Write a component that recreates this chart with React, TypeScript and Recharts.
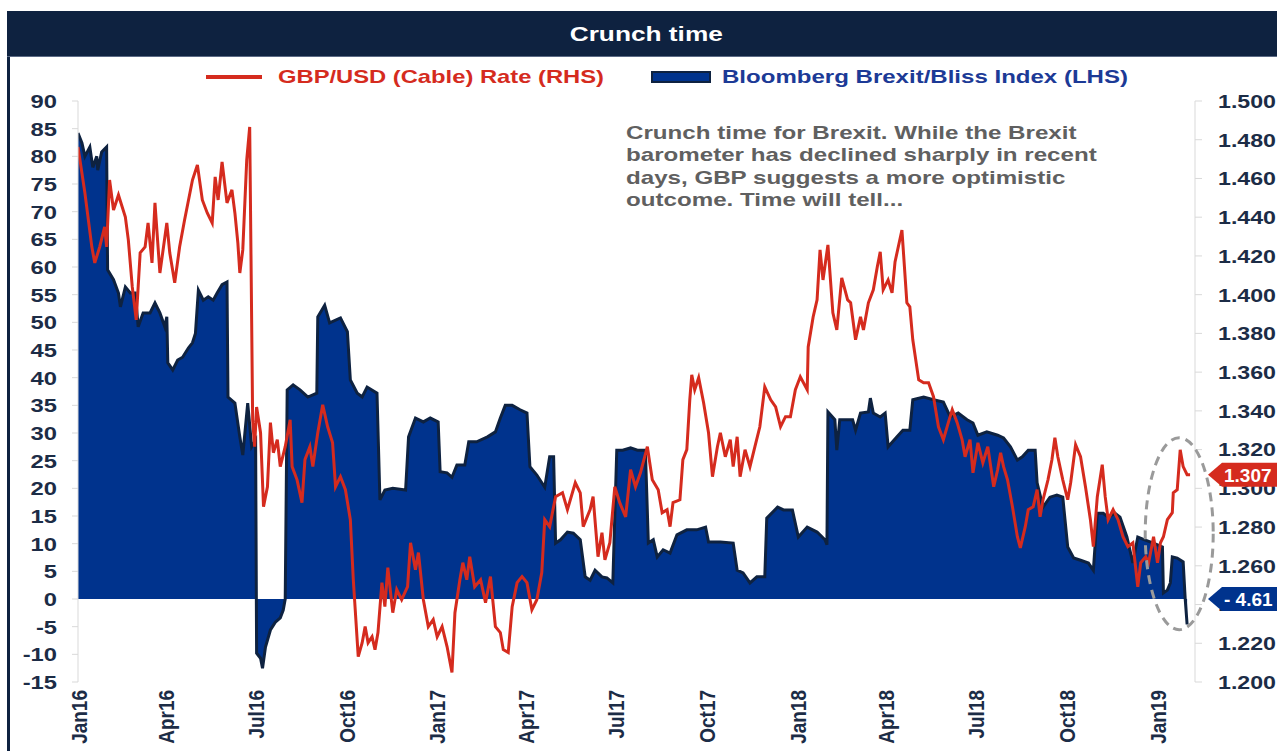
import React from "react";
import { ComposedChart, Area, Line, XAxis, YAxis, ReferenceDot } from "recharts";

// day = days since 1 Jan 2016
const cableDay = [
  2, 9, 16, 19, 24, 29, 31, 34, 38, 43, 50, 53, 57, 61, 65, 70, 73, 77, 80, 85, 92, 95, 100, 105, 110, 118, 123, 128,
  133, 138, 141, 144, 148, 153, 158, 161, 164, 166, 169, 173, 176, 179, 181, 183, 187, 190, 194, 197, 200, 204, 207,
  212, 217, 219, 224, 229, 232, 237, 240, 245, 250, 255, 260, 263, 268, 273, 278, 281, 286, 290, 293, 296, 300, 303,
  306, 310, 313, 316, 321, 325, 330, 336, 339, 344, 347, 352, 357, 362, 366, 371, 376, 381, 384, 389, 392, 396, 399,
  404, 410, 415, 420, 425, 430, 433, 438, 442, 447, 452, 457, 462, 467, 472, 475, 480, 486, 493, 498, 506, 511, 514,
  521, 524, 529, 533, 536, 541, 546, 551, 557, 562, 567, 572, 579, 584, 590, 594, 599, 602, 605, 612, 615, 619, 622,
  624, 627, 631, 636, 641, 645, 650, 653, 658, 663, 666, 670, 673, 678, 683, 688, 693, 698, 704, 709, 714, 719, 724,
  729, 734, 741, 742, 747, 751, 754, 757, 762, 767, 771, 776, 782, 785, 790, 795, 798, 803, 808, 812, 815, 818, 823,
  827, 830, 837, 842, 845, 848, 854, 859, 864, 869, 874, 879, 884, 888, 893, 898, 901, 906, 909, 914, 919, 924, 930,
  934, 937, 940, 944, 949, 954, 957, 962, 965, 970, 974, 977, 980, 985, 989, 992, 995, 1000, 1005, 1008, 1013, 1018,
  1023, 1028, 1031, 1035, 1040, 1043, 1046, 1051, 1056, 1061, 1066, 1071, 1076, 1079, 1084, 1087, 1092, 1096, 1099,
  1102, 1106, 1111, 1112, 1116, 1119, 1122, 1126, 1129,
];
const cableRate = [
  1.4763, 1.4525, 1.4247, 1.4164, 1.4247, 1.435, 1.4247, 1.4592, 1.4437, 1.4515, 1.4401, 1.4283, 1.404, 1.387, 1.4216,
  1.4247, 1.437, 1.4164, 1.4474, 1.4112, 1.437, 1.4216, 1.4061, 1.4247, 1.4386, 1.4592, 1.467, 1.4489, 1.4422, 1.437,
  1.4608, 1.4489, 1.4685, 1.4474, 1.4541, 1.4422, 1.4267, 1.4112, 1.4231, 1.4696, 1.4866, 1.3354, 1.3215, 1.342,
  1.3287, 1.2905, 1.3008, 1.3339, 1.3184, 1.3251, 1.3112, 1.3215, 1.3354, 1.3112, 1.3044, 1.2926, 1.3148, 1.3215,
  1.3112, 1.3287, 1.3431, 1.3318, 1.3235, 1.3008, 1.306, 1.2993, 1.2838, 1.2528, 1.2131, 1.2203, 1.2286, 1.2203,
  1.2234, 1.2167, 1.2255, 1.2513, 1.2389, 1.259, 1.2358, 1.2477, 1.2425, 1.2492, 1.2719, 1.258, 1.2668, 1.2425,
  1.2286, 1.2322, 1.2234, 1.2286, 1.2183, 1.2049, 1.2358, 1.2528, 1.2616, 1.2528, 1.2647, 1.2492, 1.2528, 1.241,
  1.2544, 1.2286, 1.2255, 1.2167, 1.2152, 1.2389, 1.2513, 1.2544, 1.2513, 1.2373, 1.2425, 1.2565, 1.2838, 1.2802,
  1.2957, 1.2977, 1.289, 1.3029, 1.2977, 1.2802, 1.289, 1.2957, 1.2647, 1.2771, 1.2631, 1.2719, 1.3008, 1.2926,
  1.2853, 1.3096, 1.3008, 1.308, 1.3215, 1.3044, 1.2993, 1.2874, 1.289, 1.2802, 1.2926, 1.2941, 1.3148, 1.32, 1.3457,
  1.3586, 1.3509, 1.3571, 1.3442, 1.3287, 1.306, 1.3215, 1.3287, 1.3163, 1.3251, 1.3112, 1.3266, 1.306, 1.3199,
  1.3112, 1.3215, 1.3318, 1.3524, 1.3457, 1.3421, 1.3318, 1.337, 1.337, 1.3509, 1.3576, 1.3509, 1.373, 1.3885,
  1.3973, 1.4231, 1.4076, 1.4257, 1.3906, 1.3818, 1.4087, 1.3973, 1.3958, 1.3767, 1.3885, 1.3818, 1.3958, 1.4025,
  1.4143, 1.4221, 1.4025, 1.4076, 1.4009, 1.4169, 1.4334, 1.3958, 1.3937, 1.3767, 1.356, 1.3545, 1.3545, 1.3473,
  1.3318, 1.3251, 1.3339, 1.3406, 1.3339, 1.3251, 1.3163, 1.3251, 1.308, 1.3235, 1.3132, 1.3215, 1.3008, 1.3096,
  1.3184, 1.3112, 1.3044, 1.2905, 1.275, 1.2693, 1.2802, 1.289, 1.2905, 1.2993, 1.2853, 1.2941, 1.3044, 1.3148,
  1.3261, 1.3163, 1.3044, 1.2941, 1.3029, 1.3225, 1.3163, 1.3008, 1.2838, 1.2699, 1.2957, 1.3122, 1.2957, 1.2838,
  1.289, 1.2838, 1.275, 1.2699, 1.2719, 1.2492, 1.2616, 1.2647, 1.2616, 1.275, 1.2616, 1.2719, 1.275, 1.2838, 1.2874,
  1.2977, 1.2993, 1.3199, 1.3112, 1.307, 1.307,
];

const blissDay = [
  2, 6, 9, 14, 17, 21, 22, 26, 31, 32, 38, 43, 45, 50, 55, 60, 63, 68, 75, 80, 85, 90, 92, 93, 98, 103, 108, 114, 118,
  121, 124, 129, 134, 139, 143, 148, 153, 154, 161, 166, 169, 174, 178, 182, 183, 187, 189, 192, 197, 202, 207, 210,
  212, 214, 220, 227, 235, 244, 245, 252, 257, 268, 275, 278, 285, 290, 295, 305, 308, 313, 321, 334, 337, 344, 352,
  359, 367, 369, 376, 381, 386, 394, 398, 406, 417, 425, 430, 435, 442, 450, 457, 460, 467, 475, 480, 484, 486, 491,
  498, 504, 511, 516, 521, 526, 533, 538, 544, 548, 554, 562, 569, 577, 580, 585, 589, 595, 602, 609, 619, 629, 638,
  641, 653, 666, 670, 676, 683, 690, 698, 700, 711, 717, 726, 732, 741, 751, 759, 761, 762, 769, 771, 774, 782, 787,
  790, 795, 803, 805, 808, 815, 820, 823, 832, 838, 845, 848, 859, 869, 879, 886, 894, 903, 909, 914, 923, 934, 940,
  947, 954, 959, 965, 972, 974, 980, 987, 994, 1000, 1005, 1011, 1018, 1026, 1031, 1035, 1041, 1046, 1053, 1058, 1065,
  1071, 1076, 1083, 1092, 1101, 1102, 1106, 1109, 1111, 1116, 1122, 1124, 1126,
];
const blissIndex = [
  84.2, 82.4, 80, 81.7, 78, 80, 77.5, 80.8, 81.7, 59.5, 57.7, 55.3, 52.8, 56.4, 55.3, 55.3, 49.2, 51.7, 51.7, 53.5,
  51.7, 49.2, 51, 42.7, 41.4, 43.2, 43.7, 45.4, 46.3, 48, 55.8, 54, 54.6, 54, 55.3, 56.8, 57.3, 36.5, 35.4, 29.3, 26,
  35.4, 27.5, 28.7, -9.8, -10.7, -12.5, -8.7, -5.6, -4.2, -3.4, -2, 0, 37.8, 38.7, 37.8, 36.5, 37.2, 51, 53.1, 49.9,
  50.8, 48.3, 39.6, 37.2, 36.5, 38.3, 37.2, 17.9, 19.7, 20, 19.7, 29.3, 32.7, 32, 32.7, 32, 23, 22.8, 22, 24.2, 24.2,
  28.4, 28.4, 29.3, 30.2, 32.7, 35, 35, 34.2, 33.6, 23.9, 22.4, 20.2, 25.7, 25.7, 10.1, 10.7, 12.1, 11.9, 10.7, 4, 3.4,
  5.2, 4, 3.8, 2.9, 26.9, 26.9, 27.3, 26.9, 26.9, 10.1, 10.7, 7.6, 8.9, 8.3, 11.6, 12.5, 12.5, 13, 10.3, 10.3, 10.1,
  5.2, 4.7, 2.9, 4, 4, 14.6, 16.6, 16.1, 16.1, 11.2, 13, 12.1, 10.7, 9.8, 33.8, 32.4, 26.9, 32.4, 32.4, 32.4, 30.5,
  33.6, 33.8, 36.3, 33.6, 32.9, 33.6, 27.5, 29.3, 30.5, 30.5, 36, 36.5, 36, 35.6, 32.9, 33.6, 32.4, 31.8, 29.6, 30.2,
  29.6, 29.1, 27.5, 25.1, 25.7, 26.9, 26.9, 21, 16.6, 18.4, 18.8, 18.4, 9.4, 7.4, 7, 6.5, 5.2, 15.5, 15.5, 14.8, 15.5,
  14.8, 11.2, 6.5, 11.2, 10.7, 10.1, 9.4, 1.1, 1.6, 2.9, 7.6, 7.4, 6.7, 0.2, -4.61,
];

const quarterTicks = [3, 91, 182, 274, 366, 456, 547, 639, 731, 821, 912, 1004, 1096];
const quarterLabels = [
  "Jan16", "Apr16", "Jul16", "Oct16", "Jan17", "Apr17", "Jul17",
  "Oct17", "Jan18", "Apr18", "Jul18", "Oct18", "Jan19",
];
const leftTicks = [-15, -10, -5, 0, 5, 10, 15, 20, 25, 30, 35, 40, 45, 50, 55, 60, 65, 70, 75, 80, 85, 90];
const rightTicks = [1.2, 1.22, 1.24, 1.26, 1.28, 1.3, 1.32, 1.34, 1.36, 1.38, 1.4, 1.42, 1.44, 1.46, 1.48, 1.5];

const cableData = cableDay.map((d, i) => ({ d, rate: cableRate[i] }));
const blissData = blissDay.map((d, i) => ({ d, index: blissIndex[i] }));
const lastRate = cableRate[cableRate.length - 1];
const lastIndex = blissIndex[blissIndex.length - 1];

const NAVY = "#0e2240";
const RED = "#d52b1e";
const BLUE = "#00338d";
const FONT = "'Liberation Sans', Arial, sans-serif";
const TICK_COLOR = "#1c2c46";
const X_DOMAIN = [2, 1134];
const L_DOMAIN = [-15, 90];
const R_DOMAIN = [1.2, 1.5];

const LeftTick = (props: any) => (
  <g transform={`translate(57,${props.y})`}>
    <text
      transform="scale(1.25,1)"
      textAnchor="end"
      dy="0.36em"
      fontFamily={FONT}
      fontWeight={700}
      fontSize={19}
      fill={TICK_COLOR}
    >
      {props.payload.value}
    </text>
  </g>
);

const RightTick = (props: any) => (
  <g transform={`translate(1218,${props.y})`}>
    <text
      transform="scale(1.22,1)"
      textAnchor="start"
      dy="0.36em"
      fontFamily={FONT}
      fontWeight={700}
      fontSize={19}
      fill={TICK_COLOR}
    >
      {Number(props.payload.value).toFixed(3)}
    </text>
  </g>
);

const BottomTick = (props: any) => (
  <g transform={`translate(${props.x},690)`}>
    <text
      transform="rotate(-90) scale(1,1.2)"
      textAnchor="end"
      dy="0.36em"
      fontFamily={FONT}
      fontWeight={700}
      fontSize={19}
      fill={TICK_COLOR}
    >
      {quarterLabels[quarterTicks.indexOf(props.payload.value)]}
    </text>
  </g>
);

const valueTag = (color: string, text: string) => (props: any) => {
  const { cx, cy } = props;
  return (
    <g>
      <polygon
        points={`${cx + 13},${cy} ${cx + 27},${cy - 12} ${cx + 84},${cy - 12} ${cx + 84},${cy + 12} ${cx + 27},${cy + 12}`}
        fill={color}
      />
      <text
        x={cx + 29}
        y={cy}
        dy="0.36em"
        fontFamily={FONT}
        fontWeight={700}
        fontSize={19}
        fill="#fff"
      >
        {text}
      </text>
    </g>
  );
};

const RingShape = (props: any) => (
  <ellipse
    cx={props.cx}
    cy={props.cy}
    rx={34}
    ry={96}
    fill="none"
    stroke="#9a9a9a"
    strokeWidth={3}
    strokeDasharray="9 6"
  />
);

export default function App() {
  return (
    <div style={{ position: "relative", width: 1277, height: 751, overflow: "hidden", background: "#fff" }}>
      <style>{"body{margin:0;overflow:hidden}"}</style>

      {/* frame */}
      <div style={{ position: "absolute", left: 7, top: 11, width: 3, height: 740, background: NAVY }} />
      <div
        style={{
          position: "absolute",
          left: 7,
          top: 11,
          width: 1278,
          height: 45,
          background: NAVY,
          borderBottom: "1px solid #5b6a85",
          textAlign: "center",
          lineHeight: "45px",
          color: "#fff",
          fontFamily: FONT,
          fontWeight: 700,
          fontSize: 21,
        }}
      >
        <span style={{ display: "inline-block", transform: "scaleX(1.25)" }}>Crunch time</span>
      </div>

      <div style={{ position: "absolute", left: 0, top: 0 }}>
        <ComposedChart width={1277} height={751} margin={{ top: 101, right: 10, bottom: 9, left: 18 }}>
          <XAxis
            type="number"
            dataKey="d"
            domain={X_DOMAIN}
            ticks={quarterTicks}
            interval={0}
            allowDataOverflow
            height={60}
            tickLine={false}
            axisLine={false}
            tick={BottomTick}
          />
          <YAxis
            yAxisId="l"
            domain={L_DOMAIN}
            ticks={leftTicks}
            interval={0}
            width={60}
            tickSize={6}
            tickLine={{ stroke: "#d9d9d9" }}
            axisLine={{ stroke: "#d9d9d9" }}
            tick={LeftTick}
          />
          <YAxis
            yAxisId="r"
            orientation="right"
            domain={R_DOMAIN}
            ticks={rightTicks}
            interval={0}
            width={72}
            tickSize={7}
            tickLine={{ stroke: "#d9d9d9" }}
            axisLine={{ stroke: "#d9d9d9" }}
            tick={RightTick}
          />
          <Area
            yAxisId="l"
            data={blissData}
            dataKey="index"
            type="linear"
            stroke={NAVY}
            strokeWidth={3}
            fill={BLUE}
            fillOpacity={1}
            isAnimationActive={false}
          />
          <Line
            yAxisId="r"
            data={cableData}
            dataKey="rate"
            type="linear"
            stroke={RED}
            strokeWidth={3}
            dot={false}
            isAnimationActive={false}
          />
        </ComposedChart>
      </div>

      {/* same scales again, on top of the axis labels, for the ring and the last-value tags */}
      <div style={{ position: "absolute", left: 0, top: 0, pointerEvents: "none" }}>
        <ComposedChart width={1277} height={751} margin={{ top: 101, right: 82, bottom: 69, left: 78 }}>
          <XAxis type="number" dataKey="d" domain={X_DOMAIN} allowDataOverflow hide />
          <YAxis yAxisId="l" domain={L_DOMAIN} allowDataOverflow hide />
          <YAxis yAxisId="r" orientation="right" domain={R_DOMAIN} allowDataOverflow hide />
          <Line
            yAxisId="r"
            data={cableData}
            dataKey="rate"
            stroke="none"
            dot={false}
            isAnimationActive={false}
          />
          <ReferenceDot yAxisId="r" x={1118} y={1.2766} shape={RingShape} />
          <ReferenceDot yAxisId="r" x={1134} y={lastRate} shape={valueTag(RED, lastRate.toFixed(3))} />
          <ReferenceDot yAxisId="l" x={1134} y={0} shape={valueTag(BLUE, `- ${Math.abs(lastIndex).toFixed(2)}`)} />
        </ComposedChart>
      </div>

      {/* legend */}
      <div style={{ position: "absolute", left: 206, top: 75, width: 56, height: 4, background: RED }} />
      <div
        style={{
          position: "absolute",
          left: 278,
          top: 66,
          fontFamily: FONT,
          fontWeight: 700,
          fontSize: 19,
          lineHeight: "22px",
          color: RED,
          whiteSpace: "nowrap",
          transform: "scaleX(1.25)",
          transformOrigin: "left",
        }}
      >
        GBP/USD (Cable) Rate (RHS)
      </div>
      <div
        style={{
          position: "absolute",
          left: 651,
          top: 71,
          width: 56,
          height: 8,
          background: BLUE,
          border: `2px solid ${NAVY}`,
        }}
      />
      <div
        style={{
          position: "absolute",
          left: 722,
          top: 66,
          fontFamily: FONT,
          fontWeight: 700,
          fontSize: 19,
          lineHeight: "22px",
          color: "#1c3a96",
          whiteSpace: "nowrap",
          transform: "scaleX(1.265)",
          transformOrigin: "left",
        }}
      >
        Bloomberg Brexit/Bliss Index (LHS)
      </div>

      {/* note */}
      <div
        style={{
          position: "absolute",
          left: 626,
          top: 122,
          fontFamily: FONT,
          fontWeight: 700,
          fontSize: 19,
          lineHeight: "22.4px",
          color: "#606060",
          whiteSpace: "nowrap",
          transform: "scaleX(1.27)",
          transformOrigin: "left",
        }}
      >
        <div>Crunch time for Brexit. While the Brexit</div>
        <div>barometer has declined sharply in recent</div>
        <div>days, GBP suggests a more optimistic</div>
        <div>outcome. Time will tell...</div>
      </div>
    </div>
  );
}
